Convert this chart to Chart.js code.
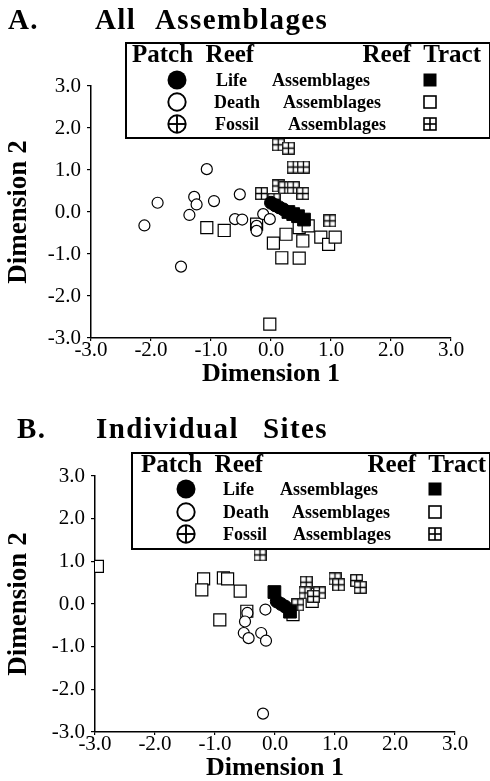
<!DOCTYPE html>
<html><head><meta charset="utf-8">
<script src="https://cdn.jsdelivr.net/npm/chart.js@4.4.1/dist/chart.umd.min.js"></script>
<style>
body{margin:0;background:#fff;}
#wrap{position:relative;width:490px;height:781px;overflow:hidden;font-family:"Liberation Serif","DejaVu Serif",serif;color:#000;background:#fff;}
.abs{position:absolute;white-space:nowrap;transform:translateY(-50%);line-height:1;}
.ttl{font-weight:bold;font-size:29px;letter-spacing:1.4px;}
.box{position:absolute;border:2.5px solid #000;background:#fff;box-sizing:border-box;}
.hdr{font-weight:bold;font-size:25px;}
.row{font-weight:bold;font-size:18px;}
canvas{position:absolute;left:0;}
svg{position:absolute;}
</style></head>
<body><div id="wrap">
<canvas id="cA" style="top:0" width="490" height="390"></canvas>
<canvas id="cB" style="top:390px" width="490" height="391"></canvas>
<div id="legends"></div>
<div class="abs ttl" style="left:8px;top:19px">A.</div>
<div class="abs ttl" style="left:95px;top:19px">All</div>
<div class="abs ttl" style="left:155px;top:19px">Assemblages</div>
<div class="abs ttl" style="left:17px;top:428px">B.</div>
<div class="abs ttl" style="left:96px;top:428px">Individual</div>
<div class="abs ttl" style="left:263px;top:428px">Sites</div>
</div>
<script>
// ---- data ----
const axisTicks = [-3, -2, -1, 0, 1, 2, 3];
const xTitle = "Dimension 1";
const yTitle = "Dimension 2";
const legendRows = ["Life", "Death", "Fossil"];
const legendWord = "Assemblages";

// Panel A: All Assemblages
const aPatchLife  = [[0.00,0.22],[0.07,0.16],[0.14,0.11],[0.21,0.06]];
const aPatchDeath = [[-1.07,1.02],[-1.89,0.22],[-1.28,0.36],[-1.24,0.18],[-0.95,0.26],[-1.36,-0.07],
                     [-0.52,0.42],[-2.11,-0.32],[-0.60,-0.17],[-0.48,-0.18],[-1.50,-1.30],[-0.13,-0.05],
                     [-0.02,-0.17],[-0.24,-0.33],[-0.24,-0.45]];
const aTractLife  = [[0.29,0.00],[0.37,-0.05],[0.45,-0.10],[0.55,-0.18]];
const aTractDeath = [[-1.07,-0.37],[-0.78,-0.44],[-0.24,-0.29],[0.04,-0.74],[0.25,-0.53],[0.47,-0.37],
                     [0.62,-0.33],[0.53,-0.69],[0.83,-0.60],[0.96,-0.77],[1.07,-0.60],[0.18,-1.09],
                     [0.47,-1.10],[-0.02,-2.67]];
const aTractFossil= [[0.12,1.60],[0.29,1.52],[0.37,1.07],[0.54,1.07],[-0.16,0.44],[0.12,0.62],
                     [0.23,0.58],[0.37,0.58],[0.53,0.44],[0.98,-0.21],[0.05,0.30]];

// Panel B: Individual Sites
const bPatchLife  = [[0.03,0.06],[0.10,0.00],[0.17,-0.06]];
const bPatchDeath = [[-0.46,-0.21],[-0.50,-0.41],[-0.16,-0.13],[-0.52,-0.68],[-0.44,-0.80],
                     [-0.23,-0.68],[-0.15,-0.86],[-0.20,-2.57]];
const bTractLife  = [[-0.01,0.28],[0.25,-0.18]];
const bTractDeath = [[-2.96,0.88],[-1.19,0.59],[-1.22,0.33],[-0.86,0.61],[-0.79,0.59],[-0.58,0.30],
                     [-0.92,-0.37],[-0.47,-0.17],[0.62,0.06],[0.30,-0.25]];
const bTractFossil= [[-0.25,1.15],[0.52,0.51],[0.50,0.26],[0.74,0.26],[0.64,0.18],[0.38,-0.02],
                     [1.00,0.59],[1.06,0.45],[1.36,0.55],[1.42,0.39]];

// ---- marker images ----
function fossilSquare(){
  const c=document.createElement('canvas'); c.width=13; c.height=13;
  const g=c.getContext('2d');
  g.fillStyle='#fff'; g.fillRect(0,0,13,13);
  g.strokeStyle='#000'; g.lineWidth=1.3;
  g.strokeRect(0.75,0.75,11.5,11.5);
  g.beginPath(); g.moveTo(6.5,1); g.lineTo(6.5,12); g.moveTo(1,6.5); g.lineTo(12,6.5); g.stroke();
  return c;
}
const fossilImg = fossilSquare();

function pts(a){ return a.map(p=>({x:p[0], y:p[1]})); }

function datasets(pLife,pDeath,tLife,tDeath,tFossil){
  return [
    {label:'Patch Reef Life',data:pts(pLife),pointStyle:'circle',pointRadius:6.5,backgroundColor:'#000',borderColor:'#000',borderWidth:1},
    {label:'Reef Tract Life',data:pts(tLife),pointStyle:'rect',pointRadius:9,backgroundColor:'#000',borderColor:'#000',borderWidth:1},
    {label:'Reef Tract Fossil',data:pts(tFossil),pointStyle:fossilImg,pointRadius:7},
    {label:'Patch Reef Death',data:pts(pDeath),pointStyle:'circle',pointRadius:5.5,backgroundColor:'#fff',borderColor:'#000',borderWidth:1.2},
    {label:'Reef Tract Death',data:pts(tDeath),pointStyle:'rect',pointRadius:8.5,backgroundColor:'#fff',borderColor:'#000',borderWidth:1.2}
  ];
}

function axis(title, isX, fit, titlePad){
  return {
    type:'linear', min:-3, max:3,
    afterFit: s=>{ if(isX) s.height=fit; else s.width=fit; },
    afterBuildTicks: s=>{ s.ticks = axisTicks.map(v=>({value:v})); },
    ticks:{ color:'#000', font:{family:'Liberation Serif', size:21, lineHeight:1}, padding: isX?-1:6,
            callback:v=>Number(v).toFixed(1), maxRotation:0, autoSkip:false },
    grid:{ drawOnChartArea:false, drawTicks:true, tickLength:isX?3:4, color:'#000', lineWidth:1.2 },
    border:{ display:true, color:'#000', width:1.5 },
    title:{ display:true, text:title, color:'#000', font:{family:'Liberation Serif', size:isX?26:27, weight:'bold', lineHeight:1}, padding:titlePad }
  };
}

function make(id, ds, o){
  new Chart(document.getElementById(id), {
    type:'scatter',
    data:{datasets:ds},
    options:{
      responsive:false, animation:false, devicePixelRatio:1,
      layout:{padding:{top:o.top, right:o.right, left:0, bottom:0}},
      plugins:{legend:{display:false}, tooltip:{enabled:false}},
      scales:{
        x: axis(xTitle, true, o.xh, {top:0,bottom:o.xtb}),
        y: axis(yTitle, false, o.yw, {top:6,bottom:0})
      }
    }
  });
}

make('cA', datasets(aPatchLife,aPatchDeath,aTractLife,aTractDeath,aTractFossil), {top:86, right:39, xh:52, yw:91, xtb:3});
make('cB', datasets(bPatchLife,bPatchDeath,bTractLife,bTractDeath,bTractFossil), {top:86, right:35, xh:49, yw:95, xtb:0});

// ---- legends (HTML) ----
function sym(kind,cx,cy){
  const s=22, h=s/2;
  let inner='';
  if(kind==='cf') inner=`<circle cx="${h}" cy="${h}" r="9.5" fill="#000"/>`;
  if(kind==='co') inner=`<circle cx="${h}" cy="${h}" r="8.7" fill="#fff" stroke="#000" stroke-width="1.9"/>`;
  if(kind==='cx') inner=`<circle cx="${h}" cy="${h}" r="8.7" fill="#fff" stroke="#000" stroke-width="1.9"/><line x1="${h}" y1="2.5" x2="${h}" y2="19.5" stroke="#000" stroke-width="1.9"/><line x1="2.5" y1="${h}" x2="19.5" y2="${h}" stroke="#000" stroke-width="1.9"/>`;
  if(kind==='sf') inner=`<rect x="4.5" y="4.5" width="13" height="13" fill="#000"/>`;
  if(kind==='so') inner=`<rect x="5" y="5" width="12" height="12" fill="#fff" stroke="#000" stroke-width="1.6"/>`;
  if(kind==='sx') inner=`<rect x="5" y="5" width="12" height="12" fill="#fff" stroke="#000" stroke-width="1.6"/><line x1="11" y1="5" x2="11" y2="17" stroke="#000" stroke-width="1.6"/><line x1="5" y1="11" x2="17" y2="11" stroke="#000" stroke-width="1.6"/>`;
  return `<svg width="${s}" height="${s}" style="left:${cx-h}px;top:${cy-h}px">${inner}</svg>`;
}
function legend(L){
  let h=`<div class="box" style="left:${L.x0}px;top:${L.y0}px;width:${L.x1-L.x0}px;height:${L.y1-L.y0}px"></div>`;
  h+=`<div class="abs hdr" style="left:${L.hx}px;top:${L.hy}px">Patch&nbsp; Reef</div>`;
  h+=`<div class="abs hdr" style="right:${490-L.hr}px;top:${L.hy}px">Reef&nbsp; Tract</div>`;
  const cs=['cf','co','cx'], ss=['sf','so','sx'];
  legendRows.forEach((r,i)=>{
    const y=L.rows[i];
    h+=sym(cs[i],L.cx,y)+sym(ss[i],L.sx,y);
    h+=`<div class="abs row" style="left:${L.tx[i]}px;top:${y}px">${r}</div>`;
    h+=`<div class="abs row" style="left:${L.ax[i]}px;top:${y}px">${legendWord}</div>`;
  });
  return h;
}
document.getElementById('legends').innerHTML =
  legend({x0:125,y0:42,x1:491,y1:139,hx:132,hy:53,hr:481,rows:[80,102,124],cx:177,sx:430,tx:[216,214,215],ax:[272,283,288]}) +
  legend({x0:131,y0:452,x1:491,y1:550,hx:141,hy:463,hr:486,rows:[489,512,534],cx:186,sx:435,tx:[223,223,223],ax:[280,292,293]});
</script>
</body></html>
